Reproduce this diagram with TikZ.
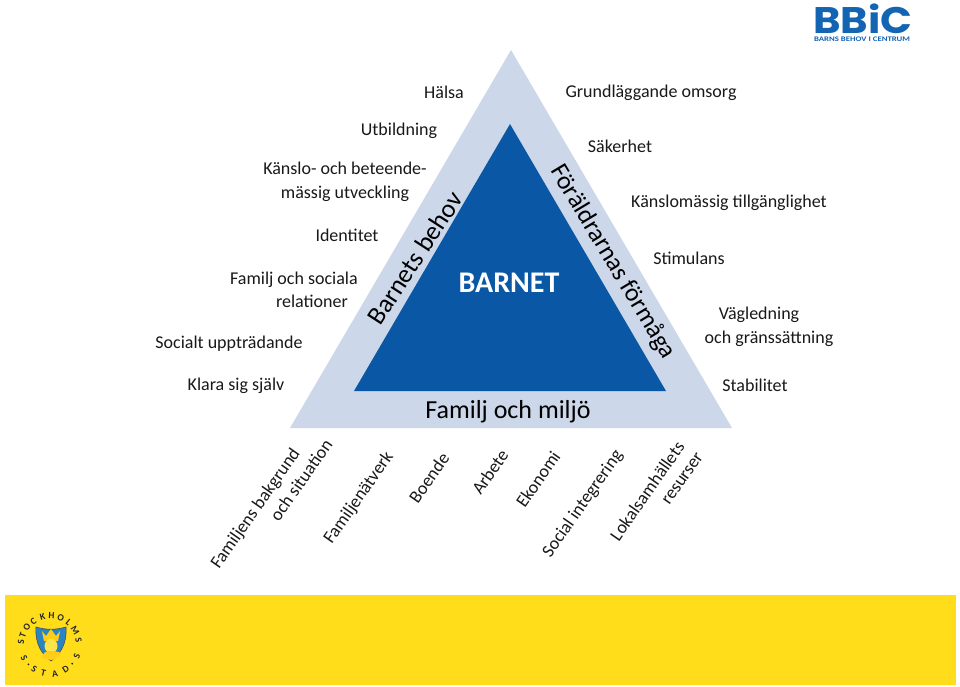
\documentclass[tikz,border=0pt]{standalone}
\usepackage{fontspec}
\setmainfont{Carlito}
\newfontfamily\logofont{Poppins}
\definecolor{pale}{HTML}{CCD7E9}
\definecolor{deep}{HTML}{0A58A5}
\definecolor{bar}{HTML}{FFDD1B}
\definecolor{logo}{HTML}{1464B4}
\definecolor{shield}{HTML}{2A84C4}
\tikzset{
 lbl/.style={font=\fontsize{18}{23.5}\selectfont,text=black!90,align=center,inner sep=0pt},
 diag/.style={lbl,rotate=55,font=\fontsize{18}{18}\selectfont},
 big/.style={font=\fontsize{26}{28}\selectfont,inner sep=0pt},
 seal/.style={font=\fontsize{9.5}{10}\bfseries\selectfont,text=black!85,inner sep=0pt}
}
\begin{document}
\begin{tikzpicture}[x=1pt,y=-1pt]
\useasboundingbox (0,0) rectangle (960,686);
\fill[white] (0,0) rectangle (960,686);
\fill[pale] (511,50) -- (732,428) -- (290,428) -- cycle;
\fill[deep] (510,124) -- (666,391) -- (354,391) -- cycle;
\node[font=\fontsize{30}{32}\bfseries\selectfont,text=white,inner sep=0pt] (barnet) at (509,283) {BARNET};
\node[big] (familj) at (508,412) {Familj och miljö};
\node[big,rotate=57] (bb) at (415,258) {Barnets behov};
\node[big,rotate=-59,font=\fontsize{25.5}{28}\selectfont] (ff) at (613,262) {Föräldrarnas förmåga};
\node[lbl] (a1) at (444,92) {Hälsa};
\node[lbl] (a2) at (399,131) {Utbildning};
\node[lbl] (a3) at (345,182) {Känslo- och beteende-\\mässig utveckling};
\node[lbl] (a4) at (347,235) {Identitet};
\node[lbl,align=right,anchor=east] (a5) at (358,290) {Familj och sociala\\relationer\rule{10pt}{0pt}};
\node[lbl] (a6) at (229,344) {Socialt uppträdande};
\node[lbl] (a7) at (236,386) {Klara sig själv};
\node[lbl] (b1) at (651,93) {Grundläggande omsorg};
\node[lbl] (b2) at (620,146) {Säkerhet};
\node[lbl] (b3) at (729,203) {Känslomässig tillgänglighet};
\node[lbl] (b4) at (689,258) {Stimulans};
\node[lbl] (b5) at (769,327) {Vägledning\rule{20pt}{0pt}\\och gränssättning};
\node[lbl] (b6) at (755,385) {Stabilitet};
\node[diag] (c1) at (256,509) {Familjens bakgrund};
\node[diag] (c2) at (301,480) {och situation};
\node[diag] (c3) at (359,498) {Familjenätverk};
\node[diag] (c4) at (429,478) {Boende};
\node[diag] (c5) at (490,472) {Arbete};
\node[diag] (c6) at (538,479) {Ekonomi};
\node[diag] (c7) at (583,504) {Social integrering};
\node[diag] (c8) at (647,491) {Lokalsamhällets};
\node[diag] (c9) at (683,479) {resurser};
\fill[bar] (5,595) rectangle (956,685);
\node[font=\fontsize{37}{37}\logofont\bfseries\selectfont,text=logo,inner sep=0pt,xscale=1.13] (bbic) at (863,19) {BBiC};
\node[font=\fontsize{7}{8}\bfseries\selectfont,text=logo,inner sep=0pt,xscale=1.25] (bbics) at (862,39) {BARNS BEHOV I CENTRUM};
% seal
\filldraw[fill=shield,draw=black!70,line width=.6pt] (36,627) .. controls (46,630) and (56,630) .. (66,627) .. controls (67,645) and (60,654) .. (51,661) .. controls (42,654) and (35,645) .. (36,627) -- cycle;
\fill[bar!85!orange] (42,631) -- (46,636) -- (51,629) -- (56,636) -- (60,631) -- (58,641) -- (44,641) -- cycle;
\fill[bar!80!white] (51,646) ellipse (6.5 and 7);
\fill[bar!85!orange] (41,658) .. controls (43,652) and (47,651) .. (51,651) .. controls (55,651) and (59,652) .. (61,653) .. controls (59,657) and (55,660) .. (51,660) -- cycle;
\foreach \c/\a in {S/175,T/160,O/143,C/125,K/105,H/87,O/68,L/50,M/30,S/10}{
  \node[seal,rotate=\a-90] at ({50+29*cos(\a)},{645-29*sin(\a)}) {\c};}
\foreach \c/\a in {S/-153,S/-123,T/-103,A/-80,D/-57,S/-22}{
  \node[seal,rotate=\a+90] at ({50+29*cos(\a)},{645-29*sin(\a)}) {\c};}
\foreach \a in {-138,-40}{\fill[black!85] ({50+29*cos(\a)},{645-29*sin(\a)}) circle (1);}
\end{tikzpicture}
\end{document}
